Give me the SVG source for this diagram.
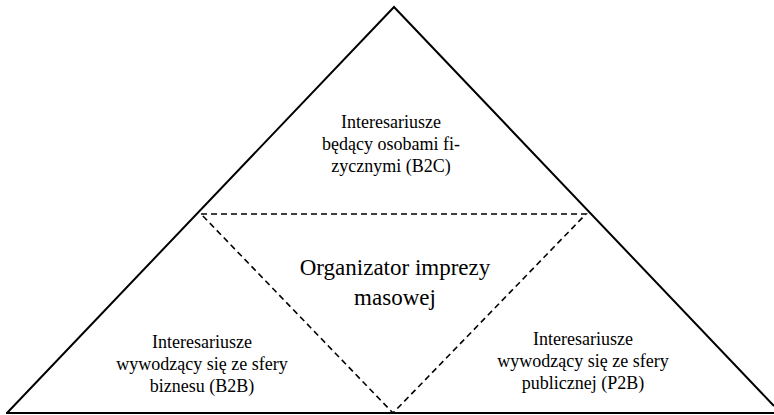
<svg xmlns="http://www.w3.org/2000/svg" width="774" height="415" viewBox="0 0 774 415">
<style>
.solid{fill:none;stroke:#000;stroke-width:2}
.dash{fill:none;stroke:#000;stroke-width:1.6;stroke-dasharray:6,4}
text{fill:#000;text-anchor:middle}
.lbl{font-size:18px}
.big{font-size:23px}
</style>
<rect width="774" height="415" fill="#fff"/>
<g id="connectors">
<polyline class="solid" points="7,413 394,7 774,406"/>
<line class="solid" x1="6" y1="413" x2="774" y2="413"/>
<polygon class="dash" points="201,214 586,214 393,413"/>
</g>
<g font-family="Liberation Serif, DejaVu Serif, serif">
<g id="node-b2c">
<text class="lbl" x="391" y="128">Interesariusze</text>
<text class="lbl" x="391" y="150">będący osobami fi-</text>
<text class="lbl" x="391" y="172">zycznymi (B2C)</text>
</g>
<g id="node-organizer">
<text class="big" x="395" y="275">Organizator imprezy</text>
<text class="big" x="395" y="305">masowej</text>
</g>
<g id="node-b2b">
<text class="lbl" x="202" y="348">Interesariusze</text>
<text class="lbl" x="202" y="370">wywodzący się ze sfery</text>
<text class="lbl" x="202" y="392">biznesu (B2B)</text>
</g>
<g id="node-p2b">
<text class="lbl" x="583" y="345">Interesariusze</text>
<text class="lbl" x="583" y="367">wywodzący się ze sfery</text>
<text class="lbl" x="583" y="389">publicznej (P2B)</text>
</g>
</g>
</svg>
